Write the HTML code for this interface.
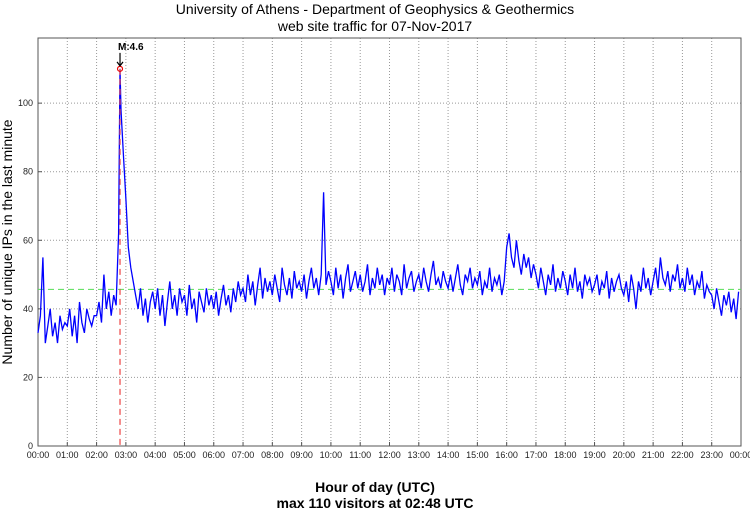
<!DOCTYPE html>
<html><head><meta charset="utf-8"><style>
body{margin:0;background:#fff;width:750px;height:511px;overflow:hidden;font-family:"Liberation Sans","DejaVu Sans",sans-serif}
</style></head><body>
<svg id="chart" width="750" height="511" xmlns="http://www.w3.org/2000/svg" font-family="Liberation Sans, DejaVu Sans, sans-serif">
<text x="375" y="14" text-anchor="middle" font-size="14">University of Athens - Department of Geophysics &amp; Geothermics</text>
<text x="375" y="31" text-anchor="middle" font-size="14">web site traffic for 07-Nov-2017</text>
<g id="grid"></g>
<g id="axes"></g>
<g id="series"></g>
<text transform="translate(12,242) rotate(-90)" text-anchor="middle" font-size="14">Number of unique IPs in the last minute</text>
<text x="375" y="492" text-anchor="middle" font-size="14" font-weight="bold">Hour of day (UTC)</text>
<text x="375" y="508" text-anchor="middle" font-size="14" font-weight="bold">max 110 visitors at 02:48 UTC</text>
</svg>
<script>
const hourLabels=["00:00","01:00","02:00","03:00","04:00","05:00","06:00","07:00","08:00","09:00","10:00","11:00","12:00","13:00","14:00","15:00","16:00","17:00","18:00","19:00","20:00","21:00","22:00","23:00","00:00"];
const yTicks=[0,20,40,60,80,100];
const meanValue=45.7;
const maxMinute=168;
const maxValue=110;
const markerLabel="M:4.6";
const values5min=[
33,38,55,30,35,40,32,36,30,38,34,36,
35,40,32,38,30,42,36,33,40,37,35,38,
38,42,36,50,40,45,38,44,41,62,98,85,
72,58,52,48,44,40,46,38,43,36,42,45,
40,46,38,44,35,42,48,40,44,38,46,42,
44,38,47,40,43,36,45,42,39,46,41,44,
40,45,38,43,47,41,44,39,46,42,48,44,
46,42,50,44,48,41,47,52,43,49,45,48,
44,50,46,42,52,47,44,49,43,51,46,48,
45,50,43,48,52,46,49,44,50,74,47,51,
48,44,52,46,50,43,49,53,45,48,51,46,
50,45,48,53,44,49,46,52,47,50,44,49,
47,52,45,50,48,44,53,46,49,51,45,48,
50,46,52,48,45,50,54,47,49,46,51,48,
46,50,45,49,53,47,44,50,48,52,46,49,
47,51,44,48,46,52,45,49,47,50,44,48,
58,62,55,52,60,54,50,56,52,55,49,53,
50,46,52,48,44,50,47,53,45,49,46,51,
48,44,50,46,52,45,48,43,50,47,49,45,
47,50,44,48,46,51,43,49,45,48,50,46,
44,48,42,50,46,40,48,45,52,46,49,44,
48,52,46,55,49,47,51,45,50,48,53,46,
49,45,52,47,50,44,48,46,51,43,47,45,
44,40,46,42,38,44,41,45,39,43,37,45];

const NS="http://www.w3.org/2000/svg";
const L=38,R=741,T=38,B=446,YMAX=119;
const xs=m=>L+(R-L)*m/1440;
const ys=v=>B-(B-T)*v/YMAX;
function mk(tag,attrs,parent){const e=document.createElementNS(NS,tag);for(const k in attrs)e.setAttribute(k,attrs[k]);parent.appendChild(e);return e;}
const grid=document.getElementById('grid'),axes=document.getElementById('axes'),series=document.getElementById('series');
mk('rect',{x:L,y:T,width:R-L,height:B-T,fill:'#fff'},grid);
hourLabels.forEach((lab,i)=>{
  const x=xs(i*60);
  if(i>0&&i<24){const g=mk('line',{x1:x,x2:x,y1:T,y2:B,stroke:'#999','stroke-dasharray':'1,2','stroke-width':1},grid);
  
  }
  const tk=mk('line',{x1:x,x2:x,y1:B,y2:B-4,stroke:'#555','stroke-width':1},axes);
  
  
  const t=mk('text',{x:x,y:B+12,'text-anchor':'middle','font-size':9,fill:'#222'},axes);
  t.textContent=lab;
  
  
});
yTicks.forEach(v=>{
  const y=ys(v);
  if(v>0){const g=mk('line',{x1:L,x2:R,y1:y,y2:y,stroke:'#999','stroke-dasharray':'1,2','stroke-width':1},grid);
  
  }
  const tk=mk('line',{x1:L,x2:L+4,y1:y,y2:y,stroke:'#555'},axes);
  
  
  const t=mk('text',{x:L-5,y:y+3,'text-anchor':'end','font-size':9,fill:'#222'},axes);
  t.textContent=v;
  
  
});
const frame=mk('rect',{x:L,y:T,width:R-L,height:B-T,fill:'none',stroke:'#555','stroke-width':1},axes);


const ml=mk('line',{x1:L,x2:R,y1:ys(meanValue),y2:ys(meanValue),stroke:'#5d5','stroke-dasharray':'6,4','stroke-width':1},series);


const pts=[];
values5min.forEach((v,i)=>{const m=i*5;pts.push([m,v]);});
pts.push([maxMinute,maxValue]);
pts.sort((a,b)=>a[0]-b[0]);
const d=pts.map((p,i)=>(i?'L':'M')+xs(p[0]).toFixed(1)+','+ys(p[1]).toFixed(1)).join(' ');
const line=mk('path',{d:d,fill:'none',stroke:'#0000ff','stroke-width':1.3},series);


const mx=xs(maxMinute),my=ys(maxValue);
const vl=mk('line',{x1:mx,x2:mx,y1:my,y2:B,stroke:'#e44','stroke-dasharray':'6,4','stroke-width':1.2},series);


const c=mk('circle',{cx:mx,cy:my,r:2.5,fill:'none',stroke:'#e00','stroke-width':1.2},series);


const ar=mk('path',{d:`M${mx},${my-16} L${mx},${my-3} M${mx-3},${my-7} L${mx},${my-3} L${mx+3},${my-7}`,stroke:'#000',fill:'none','stroke-width':1.2},series);


const mt=mk('text',{x:mx-2,y:my-19,'font-size':10,'font-weight':'bold'},series);
mt.textContent=markerLabel;


</script>
</body></html>
